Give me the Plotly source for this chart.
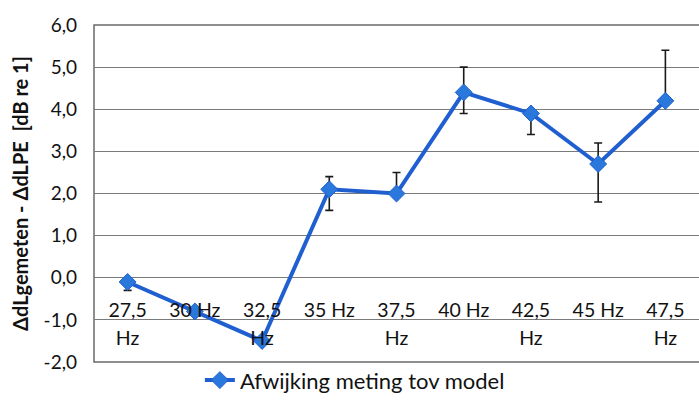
import plotly.graph_objects as go

# Frequency bands (category axis) and measured deviation from the model
freq_line1 = ["27,5", "30 Hz", "32,5", "35 Hz", "37,5", "40 Hz", "42,5", "45 Hz", "47,5"]
freq_line2 = ["Hz", "", "Hz", "", "Hz", "", "Hz", "", "Hz"]
deviation = [-0.1, -0.8, -1.5, 2.1, 2.0, 4.4, 3.9, 2.7, 4.2]
err_plus = [0.0, 0.0, 0.0, 0.3, 0.5, 0.6, 0.0, 0.5, 1.2]
err_minus = [0.2, 0.0, 0.0, 0.5, 0.0, 0.5, 0.5, 0.9, 0.0]
y_ticks = [-2, -1, 0, 1, 2, 3, 4, 5, 6]
y_ticktext = ["-2,0", "-1,0", "0,0", "1,0", "2,0", "3,0", "4,0", "5,0", "6,0"]

positions = list(range(len(deviation)))
FONT = "Lato"
BLUE = "#1f5fcf"

fig = go.Figure()
fig.add_trace(go.Scatter(
    x=positions, y=deviation,
    mode="lines+markers",
    name="Afwijking meting tov model",
    line=dict(color=BLUE, width=4),
    marker=dict(symbol="diamond", size=13, color="#2a78dc", line=dict(color=BLUE, width=1)),
    error_y=dict(type="data", symmetric=False, array=err_plus, arrayminus=err_minus,
                 color="#1a1a1a", thickness=1.6, width=4),
))

# second text row of the frequency labels
fig.add_trace(go.Scatter(x=positions, y=deviation, xaxis="x2", mode="none",
                         showlegend=False, hoverinfo="skip"))

axis_common = dict(range=[-0.5, len(deviation) - 0.5], showgrid=False, zeroline=False,
                   showline=False, tickvals=positions, anchor="free",
                   position=(0 - y_ticks[0]) / (y_ticks[-1] - y_ticks[0]),
                   ticks="outside", tickcolor="rgba(0,0,0,0)",
                   tickfont=dict(family=FONT, size=19.5, color="#111"))

fig.update_layout(
    width=699, height=419,
    margin=dict(l=94, r=0, t=25, b=57),
    paper_bgcolor="white", plot_bgcolor="white",
    separators=",.",
    xaxis=dict(**axis_common, ticktext=freq_line1, ticklen=15),
    xaxis2=dict(**axis_common, ticktext=freq_line2, ticklen=43, overlaying="x"),
    yaxis=dict(range=[y_ticks[0], y_ticks[-1]], tickvals=y_ticks, ticktext=y_ticktext,
               showgrid=True, gridcolor="#7a7a7a", gridwidth=1, zeroline=False,
               showline=False, ticks="", ticklabelstandoff=16,
               tickfont=dict(family=FONT, size=19, color="#111"),
               title=dict(text="<b>ΔdLgemeten - ΔdLPE  [dB re 1]</b>",
                          font=dict(family=FONT, size=20, color="#111"), standoff=9)),
    legend=dict(orientation="h", x=0.175, xanchor="left", y=0.008, yanchor="top",
                font=dict(family=FONT, size=22, color="#111"),
                bgcolor="rgba(0,0,0,0)"),
    showlegend=True,
)

# plot area frame
fig.add_shape(type="rect", xref="paper", yref="paper", x0=0, x1=1.002, y0=0, y1=1,
              line=dict(color="#6a6a6a", width=1.5), layer="below")

fig.write_html("out.html")
